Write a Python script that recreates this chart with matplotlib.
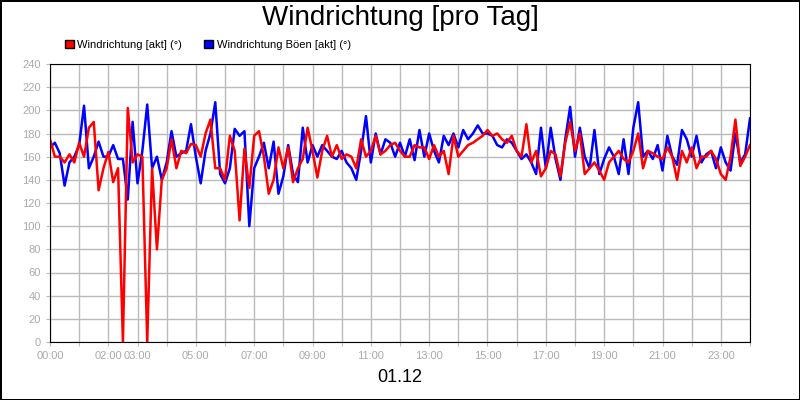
import matplotlib
matplotlib.use("Agg")
import matplotlib.pyplot as plt
from matplotlib.patches import Patch
import numpy as np

plt.rcParams['font.family'] = ['Liberation Sans', 'DejaVu Sans']

red = [175,160,160,155,162,155, 172,160,185,190,131,150, 164,138,150,0,202,155,
       162,160,0,150,80,140, 150,175,150,165,163,171, 170,160,180,192,150,150,
       140,178,165,105,167,133, 178,182,160,128,140,168, 150,168,138,150,158,185,
       165,142,165,178,160,170, 158,162,160,150,175,160, 165,178,162,165,170,172,
       165,160,160,170,168,168, 158,170,160,165,145,178, 160,165,170,172,175,178,
       183,178,180,175,172,178, 165,160,188,155,165,143, 150,165,162,143,172,190,
       165,180,145,150,155,148, 140,155,160,165,158,155, 165,180,150,165,163,160,
       158,168,160,140,165,155, 168,150,160,160,165,158, 145,140,160,192,152,160, 170]
blue = [168,172,163,135,155,160, 170,204,150,160,173,160, 160,170,158,158,123,190,
        137,165,205,150,160,140, 155,182,160,163,165,188, 160,137,165,180,207,145,
        137,150,184,178,182,100, 150,160,172,150,173,128, 143,170,145,138,185,155,
        170,160,170,165,160,158, 165,155,150,140,165,195, 155,180,162,175,172,160,
        172,160,175,157,183,160, 180,165,155,178,170,180, 168,183,175,180,187,180,
        180,178,170,168,175,172, 165,158,162,155,145,185, 150,185,158,140,175,203,
        160,185,160,150,183,145, 158,168,160,145,175,145, 185,207,160,165,158,170,
        148,178,160,153,183,175, 160,178,155,162,165,150, 168,155,148,180,155,162, 193]
tick_labels = ["00:00","02:00","03:00","05:00","07:00","09:00","11:00","13:00",
               "15:00","17:00","19:00","21:00","23:00"]
tick_hours = [0,2,3,5,7,9,11,13,15,17,19,21,23]
hours = np.arange(len(red)) / 6.0

fig = plt.figure(figsize=(8,4), dpi=100)
fig.patch.set_edgecolor("black"); fig.patch.set_linewidth(2)
ax = fig.add_axes([50/800, 58/400, 700/800, 278/400])
ax.plot(hours, blue, color="#0000ff", lw=1.8)
ax.plot(hours, red, color="#ff0000", lw=1.8)
ax.set_xlim(0,24); ax.set_ylim(0,240)
ax.set_yticks(range(0,241,20))
ax.set_xticks(range(0,25))
ax.set_xticklabels([tick_labels[tick_hours.index(h)] if h in tick_hours else "" for h in range(25)])
ax.grid(True, color="#bbbbbb", lw=1)
ax.tick_params(colors="#bbbbbb", labelsize=8, length=3, labelcolor="#aaaaaa")
for s in ax.spines.values(): s.set_color("black")
fig.text(0.5, 1-18/400, "Windrichtung [pro Tag]", ha="center", va="center", fontsize=20)
fig.text(0.5, 1-378/400, "01.12", ha="center", va="center", fontsize=13)
fig.legend([Patch(fc="#ff0000", ec="black"), Patch(fc="#0000ff", ec="black")],
           ["Windrichtung [akt] (°)", "Windrichtung Böen [akt] (°)"],
           loc="center left", bbox_to_anchor=(55/800, 1-45/400), ncol=2, frameon=False,
           fontsize=8, handlelength=0.8, handleheight=0.8, handletextpad=0.3, columnspacing=2)
fig.savefig("out.png", dpi=100, edgecolor=fig.get_edgecolor())
